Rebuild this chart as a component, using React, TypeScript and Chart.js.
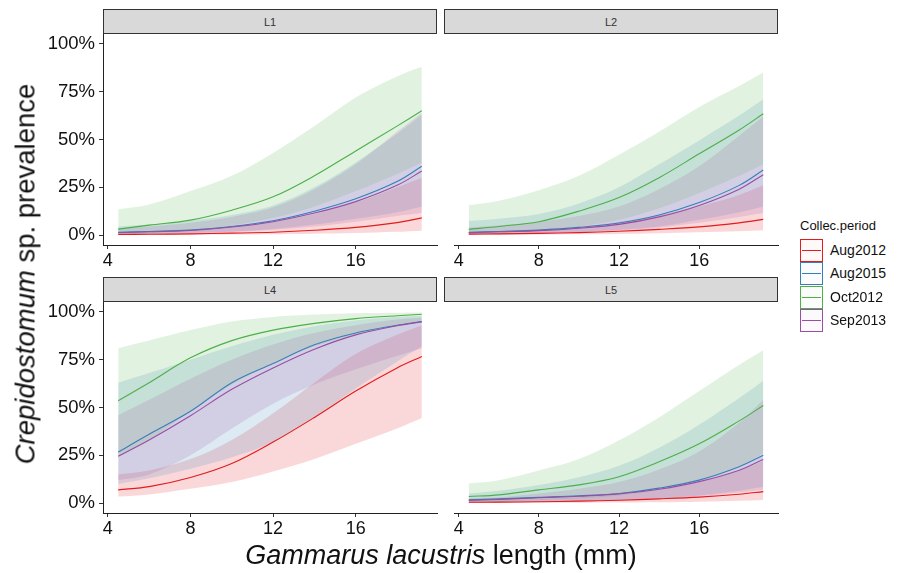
import React, { useEffect, useRef } from 'react';
import { Chart, registerables } from 'chart.js';

Chart.register(...registerables);

// ---------- data ----------
const lengths = [4.5, 6, 8, 10, 12, 14, 16, 18, 19.2];
const periods = ['Aug2012', 'Aug2015', 'Oct2012', 'Sep2013'];
const panelNames = ['L1', 'L2', 'L4', 'L5'];
const xTicks = [4, 8, 12, 16];
const yTicks = [0, 25, 50, 75, 100];

// L1
const L1_Aug2012_fit = [0.3, 0.4, 0.6, 1.0, 1.5, 2.5, 4, 6.5, 9];
const L1_Aug2012_lo = [0.05, 0.1, 0.15, 0.25, 0.4, 0.7, 1.1, 1.7, 2.3];
const L1_Aug2012_hi = [1.5, 2, 3, 4.5, 7, 11, 17, 25, 30];
const L1_Aug2015_fit = [1.4, 1.9, 2.6, 4.5, 7.5, 12.5, 19, 28, 36];
const L1_Aug2015_lo = [0.4, 0.6, 1, 1.8, 3.2, 5.5, 8.5, 12, 15];
const L1_Aug2015_hi = [4.5, 5.5, 7.5, 10.5, 15.5, 25, 38, 53, 63];
const L1_Oct2012_fit = [3.1, 5.2, 7.8, 13, 20, 31, 44, 57, 65];
const L1_Oct2012_lo = [0.6, 1.1, 2.5, 5, 9, 15, 23, 32, 38];
const L1_Oct2012_hi = [13.5, 16, 23, 31, 43, 57, 72, 83, 88];
const L1_Sep2013_fit = [1.2, 1.7, 2.4, 4.2, 7, 11.5, 17.5, 26, 33.5];
const L1_Sep2013_lo = [0.3, 0.5, 0.9, 1.6, 2.8, 4.5, 7, 10, 11.5];
const L1_Sep2013_hi = [3.5, 4.5, 6.5, 9.5, 14.5, 24, 37, 54, 64];

// L2
const L2_Aug2012_fit = [0.5, 0.6, 0.9, 1.3, 2, 3, 4.3, 6.4, 8.2];
const L2_Aug2012_lo = [0.1, 0.15, 0.25, 0.4, 0.6, 1, 1.5, 2, 2.5];
const L2_Aug2012_hi = [1.5, 2, 3, 4.5, 7, 10.5, 15, 21, 26];
const L2_Aug2015_fit = [1.4, 1.9, 2.6, 4, 6.3, 10.5, 17, 26, 34];
const L2_Aug2015_lo = [0.3, 0.5, 0.9, 1.6, 2.8, 4.5, 8, 12, 15];
const L2_Aug2015_hi = [7.3, 8.5, 11, 16.5, 25, 37, 49.5, 62.5, 71];
const L2_Oct2012_fit = [3, 4.5, 7, 12.5, 19.6, 30, 42.5, 55, 63.5];
const L2_Oct2012_lo = [0.6, 1.1, 2.3, 4.5, 8, 14, 22, 31, 37];
const L2_Oct2012_hi = [15.6, 18, 23.5, 31, 42, 54, 67, 78, 85];
const L2_Sep2013_fit = [1.2, 1.7, 2.3, 3.6, 5.6, 9.5, 15.5, 24, 31.6];
const L2_Sep2013_lo = [0.2, 0.4, 0.8, 1.4, 2.4, 4, 6.5, 9.5, 11.5];
const L2_Sep2013_hi = [4, 5, 7, 10, 15, 24, 36, 52, 62];

// L4
const L4_Aug2012_fit = [6.9, 8.6, 13.4, 20.7, 31.9, 44.8, 58.6, 70.7, 76.7];
const L4_Aug2012_lo = [3.4, 4.5, 7.5, 11, 16.5, 23, 31, 39, 44.5];
const L4_Aug2012_hi = [15, 17, 23, 33, 47, 63, 78, 88, 93];
const L4_Aug2015_fit = [26.7, 36, 48, 63, 73, 82.8, 89, 93, 95];
const L4_Aug2015_lo = [10, 13, 18, 24, 32, 45, 60, 74, 82];
const L4_Aug2015_hi = [63, 68, 75, 82, 88, 92.5, 95.5, 97.3, 98];
const L4_Oct2012_fit = [53.5, 63, 76, 85, 90.5, 94, 96.5, 98, 98.8];
const L4_Oct2012_lo = [24, 33, 48, 62, 73, 82, 88, 93, 95];
const L4_Oct2012_hi = [81, 85, 90.5, 95, 97.4, 98.6, 99.3, 99.6, 99.7];
const L4_Sep2013_fit = [24.5, 33, 45.7, 59.5, 70.7, 80.5, 88, 92.8, 94.8];
const L4_Sep2013_lo = [12, 15, 25, 39, 52, 62, 70, 77, 81];
const L4_Sep2013_hi = [46, 54, 65, 75, 83, 89, 93, 96, 97];

// L5
const L5_Aug2012_fit = [0.4, 0.5, 0.7, 1.0, 1.5, 2.2, 3.1, 4.6, 6];
const L5_Aug2012_lo = [0.05, 0.07, 0.1, 0.15, 0.25, 0.4, 0.7, 1.2, 1.6];
const L5_Aug2012_hi = [1.2, 1.5, 2, 3, 4.5, 7, 11, 17, 22];
const L5_Aug2015_fit = [1.7, 2.2, 3, 3.8, 5, 7.8, 12, 19, 25];
const L5_Aug2015_lo = [0.3, 0.4, 0.7, 1, 1.6, 2.5, 4, 6.5, 8.5];
const L5_Aug2015_hi = [5, 6.5, 9.5, 13.5, 19.5, 29, 41, 55, 64];
const L5_Oct2012_fit = [3.4, 4.3, 6.9, 9.5, 13.8, 21.6, 31, 43, 51];
const L5_Oct2012_lo = [0.8, 1, 1.6, 2.5, 4, 7, 12, 19, 26];
const L5_Oct2012_hi = [10.3, 12, 17, 23, 32.8, 44.8, 58.6, 72.4, 80];
const L5_Sep2013_fit = [1.4, 1.9, 2.8, 3.6, 4.8, 7.2, 11.2, 17.2, 22.8];
const L5_Sep2013_lo = [0.3, 0.4, 0.6, 0.9, 1.4, 2.2, 3.5, 5.5, 7];
const L5_Sep2013_hi = [2.5, 3, 5, 7.5, 11, 17.5, 27, 42, 54];

type Series = { fit: number[]; lo: number[]; hi: number[] };
const panelData: Record<string, Record<string, Series>> = {
  L1: {
    Aug2012: { fit: L1_Aug2012_fit, lo: L1_Aug2012_lo, hi: L1_Aug2012_hi },
    Aug2015: { fit: L1_Aug2015_fit, lo: L1_Aug2015_lo, hi: L1_Aug2015_hi },
    Oct2012: { fit: L1_Oct2012_fit, lo: L1_Oct2012_lo, hi: L1_Oct2012_hi },
    Sep2013: { fit: L1_Sep2013_fit, lo: L1_Sep2013_lo, hi: L1_Sep2013_hi },
  },
  L2: {
    Aug2012: { fit: L2_Aug2012_fit, lo: L2_Aug2012_lo, hi: L2_Aug2012_hi },
    Aug2015: { fit: L2_Aug2015_fit, lo: L2_Aug2015_lo, hi: L2_Aug2015_hi },
    Oct2012: { fit: L2_Oct2012_fit, lo: L2_Oct2012_lo, hi: L2_Oct2012_hi },
    Sep2013: { fit: L2_Sep2013_fit, lo: L2_Sep2013_lo, hi: L2_Sep2013_hi },
  },
  L4: {
    Aug2012: { fit: L4_Aug2012_fit, lo: L4_Aug2012_lo, hi: L4_Aug2012_hi },
    Aug2015: { fit: L4_Aug2015_fit, lo: L4_Aug2015_lo, hi: L4_Aug2015_hi },
    Oct2012: { fit: L4_Oct2012_fit, lo: L4_Oct2012_lo, hi: L4_Oct2012_hi },
    Sep2013: { fit: L4_Sep2013_fit, lo: L4_Sep2013_lo, hi: L4_Sep2013_hi },
  },
  L5: {
    Aug2012: { fit: L5_Aug2012_fit, lo: L5_Aug2012_lo, hi: L5_Aug2012_hi },
    Aug2015: { fit: L5_Aug2015_fit, lo: L5_Aug2015_lo, hi: L5_Aug2015_hi },
    Oct2012: { fit: L5_Oct2012_fit, lo: L5_Oct2012_lo, hi: L5_Oct2012_hi },
    Sep2013: { fit: L5_Sep2013_fit, lo: L5_Sep2013_lo, hi: L5_Sep2013_hi },
  },
};

// ---------- styles ----------
const periodColors: Record<string, string> = {
  Aug2012: '#E41A1C',
  Aug2015: '#377EB8',
  Oct2012: '#4DAF4A',
  Sep2013: '#984EA3',
};
const FONT = '"Liberation Sans", Arial, Helvetica, sans-serif';

function withAlpha(hex: string, a: number) {
  const r = parseInt(hex.slice(1, 3), 16);
  const g = parseInt(hex.slice(3, 5), 16);
  const b = parseInt(hex.slice(5, 7), 16);
  return `rgba(${r},${g},${b},${a})`;
}

type Box = { left: number; right: number; top: number; bottom: number };
const panelBoxes: Record<string, Box> = {
  L1: { left: 103, right: 437, top: 34, bottom: 245 },
  L2: { left: 444, right: 778, top: 34, bottom: 245 },
  L4: { left: 103, right: 437, top: 302, bottom: 513 },
  L5: { left: 444, right: 778, top: 302, bottom: 513 },
};
const leftColumn: Record<string, boolean> = { L1: true, L2: false, L4: true, L5: false };

const PAD_TOP = 12;
const PAD_SIDE = 10;
const X_AXIS_H = 35;
const LEFT_CANVAS_X = 20;

function Panel({ name }: { name: string }) {
  const ref = useRef<HTMLCanvasElement>(null);
  const box = panelBoxes[name];
  const showY = leftColumn[name];
  const canvasLeft = showY ? LEFT_CANVAS_X : box.left - PAD_SIDE;
  const canvasTop = box.top - PAD_TOP;
  const width = box.right + PAD_SIDE - canvasLeft;
  const height = box.bottom + X_AXIS_H - canvasTop;

  useEffect(() => {
    if (!ref.current) return;
    const series = panelData[name];
    const drawOrder = [...periods].reverse();
    const pts = (arr: number[]) => lengths.map((x, i) => ({ x, y: arr[i] }));
    const datasets: any[] = [];
    drawOrder.forEach((p) => {
      datasets.push({
        label: p + ' upper',
        data: pts(series[p].hi),
        fill: '+1',
        backgroundColor: withAlpha(periodColors[p], 0.17),
        borderColor: 'rgba(0,0,0,0)',
        borderWidth: 0,
        pointRadius: 0,
        tension: 0.35,
        order: 1,
      });
      datasets.push({
        label: p + ' lower',
        data: pts(series[p].lo),
        fill: false,
        borderColor: 'rgba(0,0,0,0)',
        borderWidth: 0,
        pointRadius: 0,
        tension: 0.35,
        order: 1,
      });
    });
    drawOrder.forEach((p) => {
      datasets.push({
        label: p,
        data: pts(series[p].fit),
        fill: false,
        borderColor: periodColors[p],
        borderWidth: 1.1,
        pointRadius: 0,
        tension: 0.35,
        order: 0,
      });
    });

    const chart = new Chart(ref.current, {
      type: 'line',
      data: { datasets },
      options: {
        animation: false,
        responsive: false,
        devicePixelRatio: 1,
        events: [],
        layout: {
          padding: { top: PAD_TOP, right: PAD_SIDE, bottom: 0, left: showY ? 0 : PAD_SIDE },
        },
        plugins: { legend: { display: false }, tooltip: { enabled: false }, title: { display: false } },
        scales: {
          x: {
            type: 'linear',
            min: 3.765,
            max: 19.935,
            afterBuildTicks: (scale: any) => {
              scale.ticks = xTicks.map((v) => ({ value: v }));
            },
            afterFit: (scale: any) => {
              scale.height = X_AXIS_H;
              scale.paddingLeft = 0;
              scale.paddingRight = 0;
            },
            ticks: {
              autoSkip: false,
              maxRotation: 0,
              padding: 1,
              color: '#111',
              font: { family: FONT, size: 18 },
              callback: (v: any) => String(v),
            },
            grid: { display: true, drawOnChartArea: false, drawTicks: true, tickLength: 4, color: '#333', lineWidth: 1 },
            border: { display: true, color: '#222', width: 1 },
          },
          y: {
            type: 'linear',
            display: showY,
            min: -5.2,
            max: 105.2,
            afterBuildTicks: (scale: any) => {
              scale.ticks = yTicks.map((v) => ({ value: v }));
            },
            afterFit: (scale: any) => {
              scale.width = box.left - canvasLeft;
              scale.paddingTop = 0;
              scale.paddingBottom = 0;
            },
            ticks: {
              autoSkip: false,
              padding: 4,
              color: '#111',
              font: { family: FONT, size: 18.5 },
              callback: (v: any) => v + '%',
            },
            grid: { display: true, drawOnChartArea: false, drawTicks: true, tickLength: 4, color: '#333', lineWidth: 1 },
            border: { display: true, color: '#222', width: 1 },
          },
        },
      } as any,
    });
    return () => chart.destroy();
  }, [name]);

  return (
    <canvas
      ref={ref}
      width={width}
      height={height}
      style={{ position: 'absolute', left: canvasLeft, top: canvasTop, width, height }}
    />
  );
}

function Strip({ name }: { name: string }) {
  const box = panelBoxes[name];
  return (
    <div
      style={{
        position: 'absolute',
        left: box.left,
        top: box.top - 25,
        width: box.right - box.left,
        height: 25,
        boxSizing: 'border-box',
        border: '1px solid #333',
        background: '#D9D9D9',
        color: '#333',
        fontFamily: FONT,
        fontSize: 11,
        lineHeight: '24px',
        textAlign: 'center',
      }}
    >
      {name}
    </div>
  );
}

function Legend() {
  return (
    <div style={{ position: 'absolute', left: 800, top: 216, fontFamily: FONT, color: '#111' }}>
      <div style={{ fontSize: 13, lineHeight: '20px', height: 23 }}>Collec.period</div>
      {periods.map((p) => (
        <div key={p} style={{ position: 'relative', height: 23.3 }}>
          <div
            style={{
              position: 'absolute',
              left: 0,
              top: 0,
              width: 23,
              height: 23,
              boxSizing: 'border-box',
              border: `1px solid ${periodColors[p]}`,
              background: withAlpha(periodColors[p], 0.03),
            }}
          >
            <div style={{ position: 'absolute', left: 1, right: 1, top: 10, height: 1, background: periodColors[p] }} />
          </div>
          <div style={{ position: 'absolute', left: 30, top: 0, fontSize: 14, lineHeight: '23px', whiteSpace: 'nowrap' }}>
            {p}
          </div>
        </div>
      ))}
    </div>
  );
}

export default function App() {
  return (
    <div
      style={{
        position: 'fixed',
        left: 0,
        top: 0,
        width: 898,
        height: 573,
        background: '#fff',
        overflow: 'hidden',
        fontFamily: FONT,
      }}
    >
      {panelNames.map((n) => (
        <Panel key={'p' + n} name={n} />
      ))}
      {panelNames.map((n) => (
        <Strip key={'s' + n} name={n} />
      ))}
      <div
        style={{
          position: 'absolute',
          left: 25,
          top: 274,
          transform: 'translate(-50%, -50%) rotate(-90deg)',
          fontSize: 27.5,
          lineHeight: '27px',
          whiteSpace: 'nowrap',
          color: '#111',
        }}
      >
        <i>Crepidostomum</i> sp. prevalence
      </div>
      <div
        style={{
          position: 'absolute',
          left: 441,
          top: 542,
          transform: 'translateX(-50%)',
          fontSize: 27,
          lineHeight: '27px',
          whiteSpace: 'nowrap',
          color: '#111',
        }}
      >
        <i>Gammarus lacustris</i> length (mm)
      </div>
      <Legend />
    </div>
  );
}
